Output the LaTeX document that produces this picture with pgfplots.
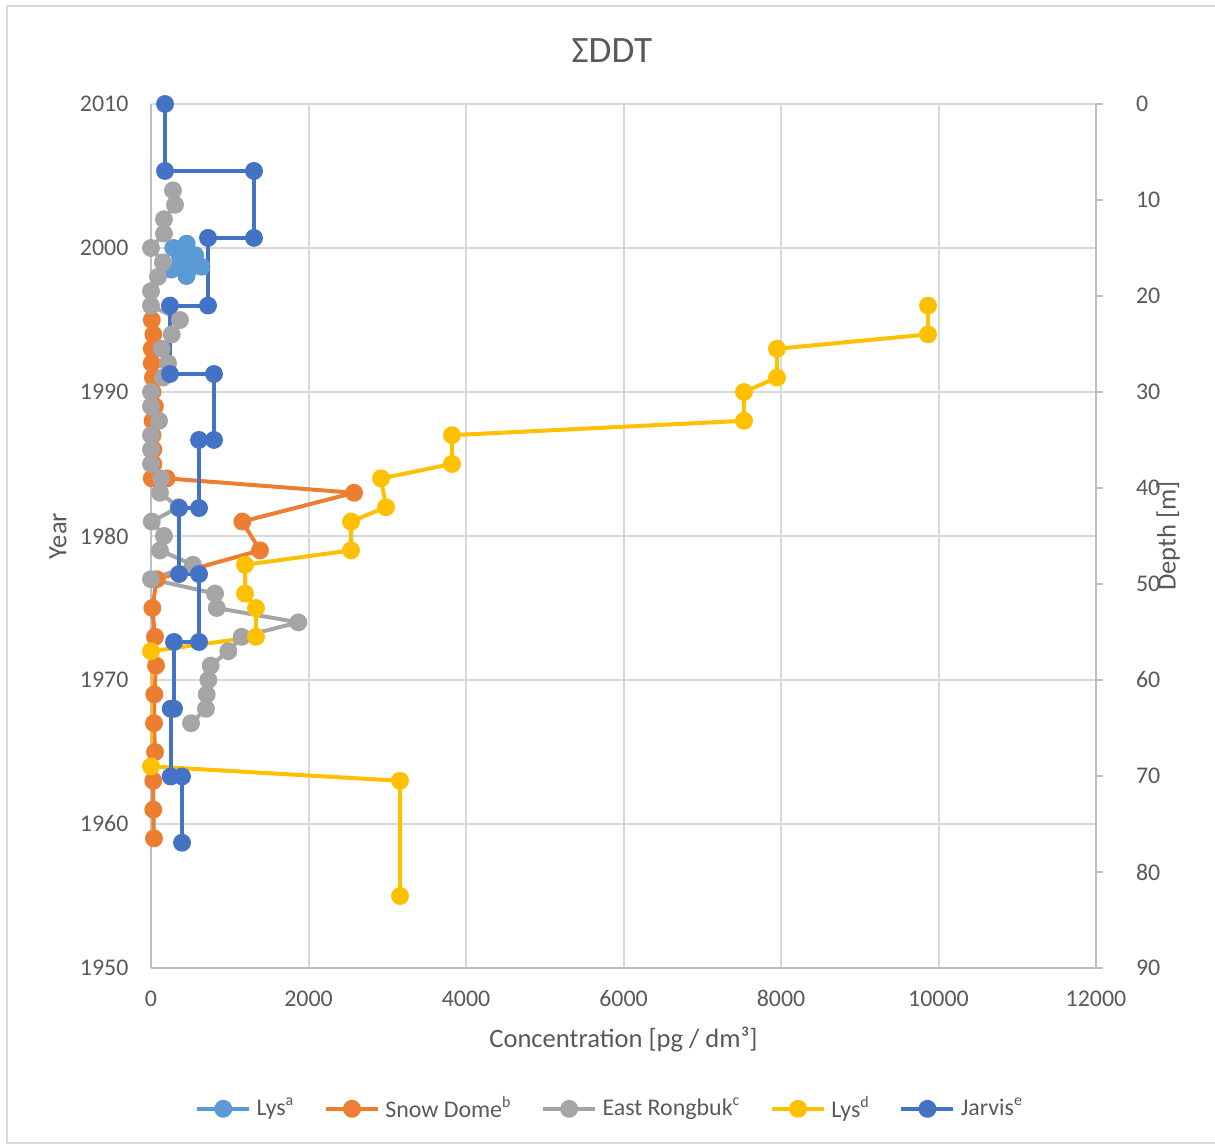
\documentclass[border=0pt]{standalone}
\usepackage{fontspec}
\setmainfont{Carlito}
\usepackage{pgfplots}
\pgfplotsset{compat=1.18}
\definecolor{txt}{HTML}{595959}
\definecolor{grd}{HTML}{D9D9D9}
\definecolor{axl}{HTML}{BFBFBF}
\definecolor{cA}{HTML}{5B9BD5}
\definecolor{cB}{HTML}{ED7D31}
\definecolor{cC}{HTML}{A5A5A5}
\definecolor{cD}{HTML}{FFC000}
\definecolor{cE}{HTML}{4472C4}
\begin{document}
\begin{tikzpicture}
\path[use as bounding box] (-56.625bp,-67.125bp) rectangle (399bp,363bp);
\draw[grd, line width=0.75bp] (402bp,360.75bp)--(-54bp,360.75bp)--(-54bp,-65.6bp)--(402bp,-65.6bp);
\begin{axis}[
  at={(0,0)}, anchor=south west,
  scale only axis, width=354.375bp, height=324bp,
  xmin=0, xmax=12000, ymin=1950, ymax=2010,
  xtick={0,2000,...,12000}, ytick={1950,1960,...,2010},
  scaled x ticks=false, scaled y ticks=false,
  axis x line*=bottom, axis y line*=left,
  axis line style={-, axl, line width=0.75bp},
  grid=major, grid style={grd, line width=0.75bp},
  major tick length=0pt,
  tick label style={font=\fontsize{9}{10.8}\selectfont, text=txt},
  /pgf/number format/assume math mode=true,
  /pgf/number format/1000 sep={},
  yticklabel style={anchor=east, inner sep=0pt, xshift=-8.25bp},
  xticklabel style={anchor=north, inner sep=0pt, yshift=-8.3bp},
  xlabel={Concentration [pg / dm³]},
  ylabel={Year},
  label style={font=\fontsize{10}{12}\selectfont, text=txt},
  xlabel style={at={(axis description cs:0.5,-0.0833)}, anchor=center},
  ylabel style={at={(axis description cs:-0.0985,0.5)}, anchor=center},
  title={ΣDDT},
  title style={at={(axis description cs:0.4878,1.043)}, anchor=center, font=\fontsize{14}{16.8}\selectfont, text=txt},
  legend style={draw=none, fill=none, at={(axis description cs:0.4878,-0.163)}, anchor=center,
    legend columns=5, font=\fontsize{9}{10.8}\selectfont, text=txt,
    /tikz/every even column/.append style={column sep=9bp}},
  legend image code/.code={\draw[mark repeat=2,mark phase=2] plot coordinates {(0bp,0bp)(9.75bp,0bp)(19.5bp,0bp)};},
  every axis plot/.append style={line width=1.5bp, line join=round, mark=*, mark size=2.6bp},
]
\addplot[cA, mark options={solid, fill=cA, draw=cA}] coordinates {
(283,2000.0)(453,2000.3)(350,1999.9)(560,1999.5)(370,1999.3)(520,1999.0)(640,1998.7)(260,1998.5)(460,1998.3)(450,1998.05)};
\addlegendentry{Lys\textsuperscript{a}}
\addplot[cB, mark options={solid, fill=cB, draw=cB}] coordinates {
(10,1995)(30,1994)(10,1993)(10,1992)(25,1991)(20,1990)(50,1989)(20,1988)(20,1987)(30,1986)(30,1985)(10,1984)(200,1984)
(2578,1983)(1160,1981)(1384,1979)(72,1977)(17,1975)(51,1973)(64,1971)(42,1969)(38,1967)(51,1965)(29,1963)(29,1961)(38,1959)};
\addlegendentry{Snow Dome\textsuperscript{b}}
\addplot[cC, mark options={solid, fill=cC, draw=cC}] coordinates {
(279,2004)(305,2003)(165,2002)(165,2001)(0,2000)(152,1999)(89,1998)(0,1997)(0,1996)(368,1995)(263,1994)(136,1993)(216,1992)(152,1991)
(0,1990)(0,1989)(102,1988)(0,1987)(0,1986)(0,1985)(127,1984)(114,1983)(350,1982)(10,1981)(165,1980)(114,1979)(533,1978)(0,1977)
(813,1976)(834,1975)(1871,1974)(1151,1973)(982,1972)(758,1971)(728,1970)(707,1969)(698,1968)(508,1967)};
\addlegendentry{East Rongbuk\textsuperscript{c}}
\addplot[cD, mark options={solid, fill=cD, draw=cD}] coordinates {
(9867,1996)(9867,1994)(7949,1993)(7949,1991)(7530,1990)(7530,1988)(3822,1987)(3822,1985)(2921,1984)(2984,1982)
(2540,1981)(2540,1979)(1194,1978)(1194,1976)(1333,1975)(1333,1973)(0,1972)(0,1964)(3162,1963)(3162,1955)};
\addlegendentry{Lys\textsuperscript{d}}
\addplot[cE, mark options={solid, fill=cE, draw=cE}] coordinates {
(178,2010)(178,2005.35)(1308,2005.35)(1308,2000.7)(724,2000.7)(724,1996)(241,1996)(241,1991.25)(800,1991.25)(800,1986.67)
(610,1986.67)(610,1981.94)(356,1981.94)(356,1977.36)(610,1977.36)(610,1972.64)(292,1972.64)(292,1968)(250,1968)(250,1963.3)
(394,1963.3)(394,1958.7)};
\addlegendentry{Jarvis\textsuperscript{e}}
\end{axis}
\begin{axis}[
  at={(0,0)}, anchor=south west,
  scale only axis, width=354.375bp, height=324bp,
  xmin=0, xmax=12000, ymin=-90, ymax=0,
  axis x line=none, axis y line*=right,
  axis line style={-, axl, line width=0.75bp},
  ytick={-90,-80,...,0}, tick align=outside, major tick length=2.6bp,
  y tick style={axl, line width=0.75bp},
  tick label style={font=\fontsize{9}{10.8}\selectfont, text=txt},
  yticklabel={\pgfmathparse{-\tick}\pgfmathprintnumber[assume math mode=true]{\pgfmathresult}},
  yticklabel style={anchor=west, inner sep=0pt, xshift=12.2bp},
  ylabel={Depth [m]},
  ylabel style={at={(axis description cs:1.0762,0.5)}, anchor=center, font=\fontsize{10}{12}\selectfont, text=txt},
]
\end{axis}
\end{tikzpicture}
\end{document}
